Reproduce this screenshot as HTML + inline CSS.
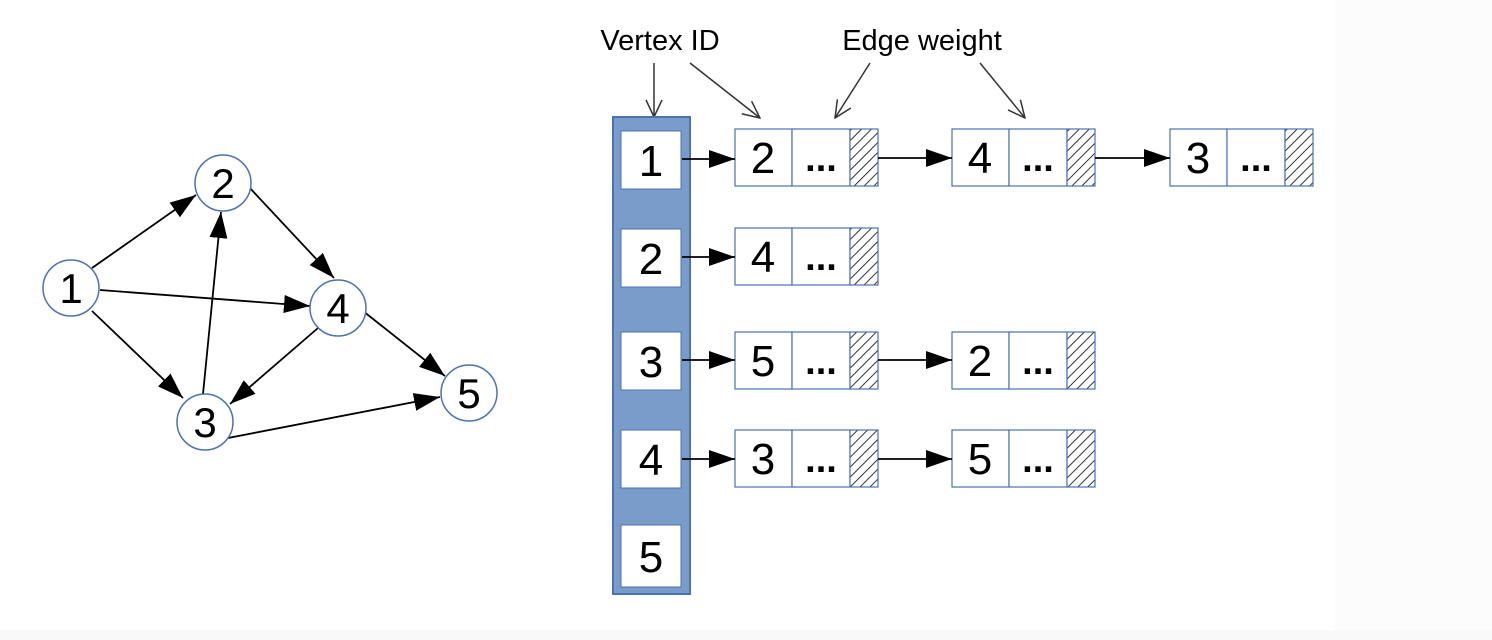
<!DOCTYPE html>
<html><head><style>body{margin:0;background:#fff}svg{display:block}</style></head><body>
<svg width="1492" height="640" xmlns="http://www.w3.org/2000/svg" font-family="Liberation Sans, sans-serif">
<defs>
<marker id="b" viewBox="0 0 26 20" markerWidth="26" markerHeight="20" refX="26" refY="10" orient="auto" markerUnits="userSpaceOnUse"><path d="M0,1 L26,10 L0,19z" fill="#000"/></marker>
<marker id="o" viewBox="0 0 20 20" markerWidth="20" markerHeight="20" refX="19" refY="10" orient="auto" markerUnits="userSpaceOnUse"><path d="M2,2 L19,10 L2,18" fill="none" stroke="#333" stroke-width="1.5"/></marker>
<pattern id="h" width="7" height="7" patternUnits="userSpaceOnUse" patternTransform="rotate(45)"><rect width="7" height="7" fill="#fff"/><line x1="0" y1="0" x2="0" y2="7" stroke="#333" stroke-width="2"/></pattern>
</defs>
<rect x="1335" y="0" width="157" height="640" fill="#fcfcfc"/>
<rect x="0" y="630" width="1492" height="10" fill="#f9f9f9"/>
<g stroke="#000" stroke-width="1.8" fill="none">
<line x1="92" y1="268" x2="196" y2="195" marker-end="url(#b)"/>
<line x1="100" y1="290" x2="310" y2="306" marker-end="url(#b)"/>
<line x1="92" y1="311" x2="183" y2="398" marker-end="url(#b)"/>
<line x1="203" y1="394" x2="221" y2="212" marker-end="url(#b)"/>
<line x1="248" y1="186" x2="334" y2="278" marker-end="url(#b)"/>
<line x1="318" y1="328" x2="230" y2="404" marker-end="url(#b)"/>
<line x1="363" y1="311" x2="445" y2="376" marker-end="url(#b)"/>
<line x1="228" y1="438" x2="440" y2="397" marker-end="url(#b)"/>
</g>
<g fill="#fff" stroke="#4a72b0" stroke-width="1.5">
<circle cx="71" cy="288" r="28"/><circle cx="223" cy="183" r="28"/><circle cx="338" cy="308" r="28"/><circle cx="205" cy="422" r="28"/><circle cx="469" cy="393" r="28"/>
</g>
<g font-size="42" text-anchor="middle" fill="#000">
<text x="71" y="303">1</text><text x="223" y="198">2</text><text x="338" y="323">4</text><text x="205" y="437">3</text><text x="469" y="408">5</text>
</g>
<g font-size="29" fill="#000" text-anchor="middle">
<text x="660" y="50">Vertex ID</text><text x="922" y="50">Edge weight</text>
</g>
<g stroke="#333" stroke-width="1.5">
<line x1="654" y1="63" x2="654" y2="117" marker-end="url(#o)"/>
<line x1="690" y1="63" x2="760" y2="118" marker-end="url(#o)"/>
<line x1="870" y1="63" x2="835" y2="118" marker-end="url(#o)"/>
<line x1="980" y1="63" x2="1025" y2="118" marker-end="url(#o)"/>
</g>
<rect x="613" y="117" width="77" height="477" fill="#7a9ccb" stroke="#4a72b0" stroke-width="2"/>
<g fill="#fff" stroke="#4a72b0" stroke-width="1">
<rect x="621" y="131" width="60" height="58"/><rect x="621" y="229" width="60" height="58"/><rect x="621" y="332" width="60" height="58"/><rect x="621" y="430" width="60" height="58"/><rect x="621" y="525" width="60" height="62"/>
</g>
<g font-size="44" text-anchor="middle">
<text x="651" y="176">1</text><text x="651" y="274">2</text><text x="651" y="377">3</text><text x="651" y="475">4</text><text x="651" y="572">5</text>
</g>
<g stroke="#4a72b0" stroke-width="1.2">
<rect x="735" y="129" width="57" height="57" fill="#fff"/><rect x="792" y="129" width="58" height="57" fill="#fff"/><rect x="850" y="129" width="28" height="57" fill="url(#h)"/>
<rect x="952" y="129" width="57" height="57" fill="#fff"/><rect x="1009" y="129" width="58" height="57" fill="#fff"/><rect x="1067" y="129" width="28" height="57" fill="url(#h)"/>
<rect x="1170" y="129" width="57" height="57" fill="#fff"/><rect x="1227" y="129" width="58" height="57" fill="#fff"/><rect x="1285" y="129" width="28" height="57" fill="url(#h)"/>
<rect x="735" y="228" width="57" height="57" fill="#fff"/><rect x="792" y="228" width="58" height="57" fill="#fff"/><rect x="850" y="228" width="28" height="57" fill="url(#h)"/>
<rect x="735" y="332" width="57" height="57" fill="#fff"/><rect x="792" y="332" width="58" height="57" fill="#fff"/><rect x="850" y="332" width="28" height="57" fill="url(#h)"/>
<rect x="952" y="332" width="57" height="57" fill="#fff"/><rect x="1009" y="332" width="58" height="57" fill="#fff"/><rect x="1067" y="332" width="28" height="57" fill="url(#h)"/>
<rect x="735" y="430" width="57" height="57" fill="#fff"/><rect x="792" y="430" width="58" height="57" fill="#fff"/><rect x="850" y="430" width="28" height="57" fill="url(#h)"/>
<rect x="952" y="430" width="57" height="57" fill="#fff"/><rect x="1009" y="430" width="58" height="57" fill="#fff"/><rect x="1067" y="430" width="28" height="57" fill="url(#h)"/>
</g>
<g font-size="44" text-anchor="middle">
<text x="763" y="173">2</text><text x="980" y="173">4</text><text x="1198" y="173">3</text>
<text x="763" y="272">4</text>
<text x="763" y="376">5</text><text x="980" y="376">2</text>
<text x="763" y="474">3</text><text x="980" y="474">5</text>
</g>
<g font-size="38" font-weight="bold" text-anchor="middle">
<text x="821" y="171">...</text><text x="1038" y="171">...</text><text x="1256" y="171">...</text>
<text x="821" y="270">...</text>
<text x="821" y="374">...</text><text x="1038" y="374">...</text>
<text x="821" y="472">...</text><text x="1038" y="472">...</text>
</g>
<g stroke="#000" stroke-width="1.8">
<line x1="682" y1="159" x2="735" y2="159" marker-end="url(#b)"/>
<line x1="682" y1="257" x2="735" y2="257" marker-end="url(#b)"/>
<line x1="682" y1="360" x2="735" y2="360" marker-end="url(#b)"/>
<line x1="682" y1="459" x2="735" y2="459" marker-end="url(#b)"/>
<line x1="878" y1="158" x2="952" y2="158" marker-end="url(#b)"/>
<line x1="1095" y1="158" x2="1170" y2="158" marker-end="url(#b)"/>
<line x1="878" y1="360" x2="952" y2="360" marker-end="url(#b)"/>
<line x1="878" y1="459" x2="952" y2="459" marker-end="url(#b)"/>
</g>
</svg>
</body></html>
